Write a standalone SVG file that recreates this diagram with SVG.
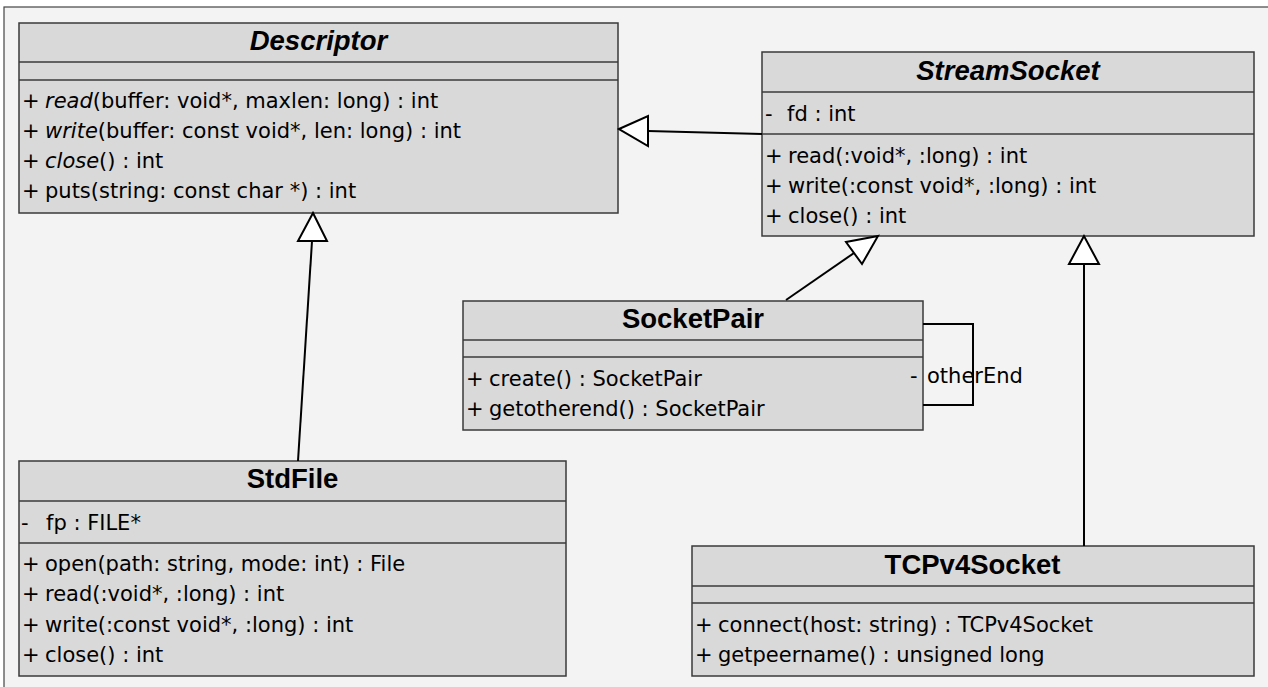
<svg xmlns="http://www.w3.org/2000/svg" width="1268" height="687" viewBox="0 0 1268 687">
<defs>
<style>
.box{fill:#d9d9d9;stroke:#3a3a3a;stroke-width:1.5}
.sep{stroke:#3a3a3a;stroke-width:1.5}
.title{font-family:"Liberation Sans",Arial,sans-serif;font-weight:bold;font-size:27.5px;fill:#000;text-anchor:middle}
.ab{font-style:italic}
.t{font-family:"DejaVu Sans",sans-serif;font-size:21px;fill:#000}
.it{font-style:italic}
.edge{stroke:#000;stroke-width:2;fill:none}
.tri{fill:#fff;stroke:#000;stroke-width:2;stroke-linejoin:miter}
</style>
</defs>
<rect x="0" y="0" width="1268" height="687" fill="#fff"/>
<rect x="4" y="7" width="1270" height="690" fill="#f3f3f3" stroke="#444" stroke-width="1.2"/>

<g id="Descriptor">
<rect class="box" x="19" y="23" width="599" height="190"/>
<line class="sep" x1="19" y1="62" x2="618" y2="62"/>
<line class="sep" x1="19" y1="80" x2="618" y2="80"/>
<text class="title ab" x="318.5" y="50">Descriptor</text>
<text class="t" x="22" y="108">+<tspan x="45" class="it">read</tspan>(buffer: void*, maxlen: long) : int</text>
<text class="t" x="22" y="138">+<tspan x="45" class="it">write</tspan>(buffer: const void*, len: long) : int</text>
<text class="t" x="22" y="168">+<tspan x="45" class="it">close</tspan>() : int</text>
<text class="t" x="22" y="198">+<tspan x="45">puts(string: const char *) : int</tspan></text>
</g>

<g id="StreamSocket">
<rect class="box" x="762" y="52" width="492" height="184"/>
<line class="sep" x1="762" y1="92" x2="1254" y2="92"/>
<line class="sep" x1="762" y1="134" x2="1254" y2="134"/>
<text class="title ab" x="1008" y="80">StreamSocket</text>
<text class="t" x="765" y="121">-<tspan x="787">fd : int</tspan></text>
<text class="t" x="765" y="163">+<tspan x="788">read(:void*, :long) : int</tspan></text>
<text class="t" x="765" y="193">+<tspan x="788">write(:const void*, :long) : int</tspan></text>
<text class="t" x="765" y="223">+<tspan x="788">close() : int</tspan></text>
</g>

<g id="SocketPair">
<rect class="box" x="463" y="301" width="460" height="129"/>
<line class="sep" x1="463" y1="340" x2="923" y2="340"/>
<line class="sep" x1="463" y1="357" x2="923" y2="357"/>
<text class="title" x="693" y="328">SocketPair</text>
<text class="t" x="466" y="386">+<tspan x="489">create() : SocketPair</tspan></text>
<text class="t" x="466" y="416">+<tspan x="489">getotherend() : SocketPair</tspan></text>
</g>

<g id="StdFile">
<rect class="box" x="19" y="461" width="547" height="215"/>
<line class="sep" x1="19" y1="501" x2="566" y2="501"/>
<line class="sep" x1="19" y1="543" x2="566" y2="543"/>
<text class="title" x="292.5" y="488">StdFile</text>
<text class="t" x="21" y="530">-<tspan x="46">fp : FILE*</tspan></text>
<text class="t" x="22" y="571">+<tspan x="45">open(path: string, mode: int) : File</tspan></text>
<text class="t" x="22" y="601">+<tspan x="45">read(:void*, :long) : int</tspan></text>
<text class="t" x="22" y="632">+<tspan x="45">write(:const void*, :long) : int</tspan></text>
<text class="t" x="22" y="662">+<tspan x="45">close() : int</tspan></text>
</g>

<g id="TCPv4Socket">
<rect class="box" x="692" y="546" width="562" height="130"/>
<line class="sep" x1="692" y1="586" x2="1254" y2="586"/>
<line class="sep" x1="692" y1="603" x2="1254" y2="603"/>
<text class="title" x="972.5" y="574">TCPv4Socket</text>
<text class="t" x="695" y="632">+<tspan x="718">connect(host: string) : TCPv4Socket</tspan></text>
<text class="t" x="695" y="662">+<tspan x="718">getpeername() : unsigned long</tspan></text>
</g>

<g id="connectors">
<line class="edge" x1="298" y1="461" x2="312" y2="241"/>
<polygon class="tri" points="313,213 298,241 327,241"/>
<line class="edge" x1="762" y1="134" x2="648" y2="131"/>
<polygon class="tri" points="619,129 648,116 648,146"/>
<line class="edge" x1="786" y1="300" x2="854" y2="253"/>
<polygon class="tri" points="878,236 846,242 862,264"/>
<line class="edge" x1="1084" y1="546" x2="1084" y2="264"/>
<polygon class="tri" points="1084,236 1069,264 1099,264"/>
<polyline class="edge" points="923,324 973,324 973,405 923,405"/>
<text class="t" x="910" y="383">-</text>
<text class="t" x="927" y="383">otherEnd</text>
</g>
</svg>
